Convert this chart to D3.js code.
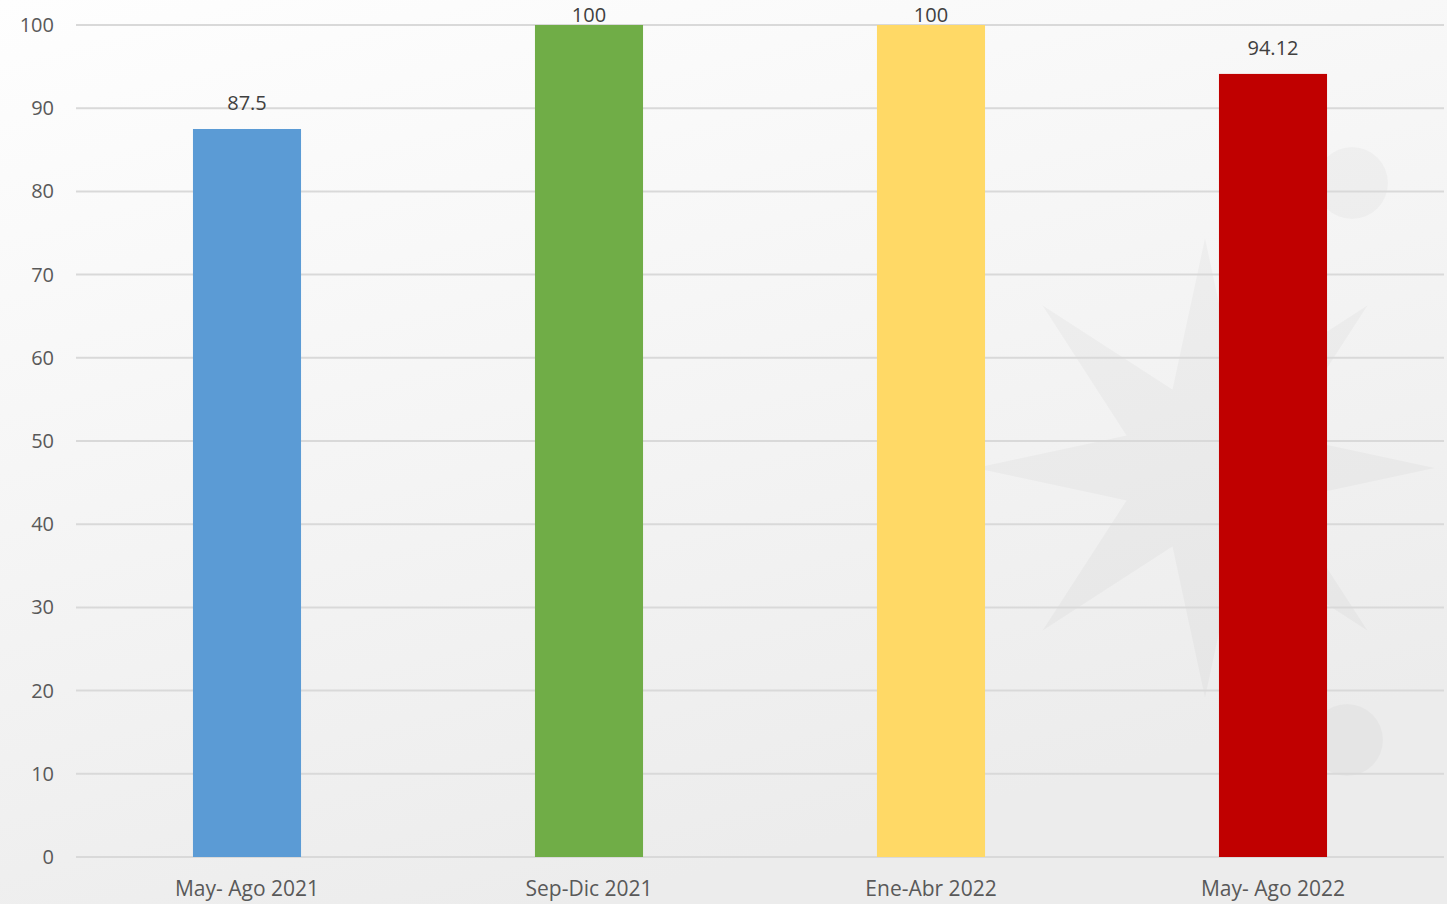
<!DOCTYPE html>
<html><head><meta charset="utf-8">
<script src="https://cdn.jsdelivr.net/npm/d3@7"></script>
<style>
html,body{margin:0;padding:0;}
body{width:1447px;height:904px;overflow:hidden;}
</style></head>
<body>
<svg id="chart" width="1447" height="904"></svg>
<script>
const categories = ["May- Ago 2021", "Sep-Dic 2021", "Ene-Abr 2022", "May- Ago 2022"];
const values = [87.5, 100, 100, 94.12];
const valueLabels = ["87.5", "100", "100", "94.12"];
const barColors = ["#5B9BD5", "#70AD47", "#FFD966", "#C00000"];
const yTicks = [0, 10, 20, 30, 40, 50, 60, 70, 80, 90, 100];

const W = 1447, H = 904;
const margin = {left: 76, right: 3, top: 25, bottom: 47};
const svg = d3.select("#chart");
const font = "'Open Sans', 'Noto Sans', sans-serif";

// background
const defs = svg.append("defs");
const grad = defs.append("linearGradient").attr("id","bg").attr("x1","0").attr("y1","0").attr("x2","0.4").attr("y2","1");
grad.append("stop").attr("offset","0").attr("stop-color","#fefefe");
grad.append("stop").attr("offset","0.45").attr("stop-color","#f6f6f6");
grad.append("stop").attr("offset","1").attr("stop-color","#ececec");
svg.append("rect").attr("width",W).attr("height",H).attr("fill","url(#bg)");

// faint watermark (decorative)
const wm = svg.append("g").attr("fill","#000").attr("fill-opacity",0.028);
const cx = 1205, cy = 468, rOut = 230, rIn = 85;
const starPts = d3.range(16).map(i => {
  const a = Math.PI * i / 8;
  const r = i % 2 === 0 ? rOut : rIn;
  return [cx + r * Math.cos(a), cy + r * Math.sin(a)];
});
wm.append("path").attr("d", d3.line()(starPts) + "Z");
wm.append("circle").attr("cx", 1352).attr("cy", 183).attr("r", 36);
wm.append("circle").attr("cx", 1347).attr("cy", 740).attr("r", 36);

const x = d3.scaleBand().domain(categories).range([margin.left, W - margin.right]).paddingInner(0.684).paddingOuter(0.342);
const y = d3.scaleLinear().domain([0, 100]).range([H - margin.bottom, margin.top]);

// gridlines
svg.append("g").selectAll("line").data(yTicks).join("line")
  .attr("x1", margin.left).attr("x2", W - margin.right)
  .attr("y1", d => y(d)).attr("y2", d => y(d))
  .attr("stroke", "#d9d9d9").attr("stroke-width", 2);

// y axis labels
const yAxis = d3.axisLeft(y).tickValues(yTicks).tickSize(0).tickPadding(22);
const gy = svg.append("g").attr("transform", `translate(${margin.left},0)`).call(yAxis);
gy.select(".domain").remove();
gy.selectAll("text").attr("fill", "#595959").style("font-family", font).style("font-size", "20px");

// bars
svg.append("g").selectAll("rect").data(values).join("rect")
  .attr("x", (d,i) => x(categories[i]))
  .attr("width", x.bandwidth())
  .attr("y", d => y(d))
  .attr("height", d => y(0) - y(d))
  .attr("fill", (d,i) => barColors[i]);

// value labels
svg.append("g").selectAll("text").data(values).join("text")
  .attr("x", (d,i) => x(categories[i]) + x.bandwidth()/2)
  .attr("y", d => Math.max(y(d) - 19, 22))
  .attr("text-anchor", "middle")
  .attr("fill", "#404040")
  .style("font-family", font).style("font-size", "20px")
  .text((d,i) => valueLabels[i]);

// x axis labels
const xAxis = d3.axisBottom(x).tickSize(0).tickPadding(24);
const gx = svg.append("g").attr("transform", `translate(0,${y(0)})`).call(xAxis);
gx.select(".domain").remove();
gx.selectAll("text").attr("fill", "#595959").style("font-family", font).style("font-size", "21px");
</script>
</body></html>
